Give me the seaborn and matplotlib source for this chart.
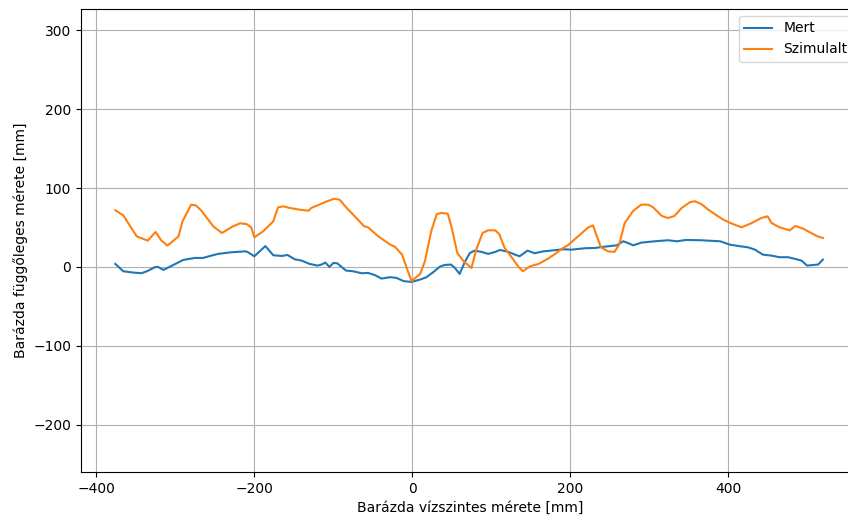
import matplotlib
matplotlib.use("Agg")
import matplotlib.pyplot as plt
import seaborn as sns
import pandas as pd

mert_x = [-376, -366, -353, -343, -336, -326, -322, -315, -300, -290, -275, -265, -256, -246,
          -229, -211, -208, -200, -186, -176, -165, -158, -149, -140, -130, -120, -115, -110,
          -105, -100, -95, -84, -75, -64, -56, -47, -39, -28, -20, -11, -1, 10, 18, 27, 35,
          41, 49, 54, 60, 67, 73, 79, 88, 96, 105, 111, 122, 130, 136, 146, 155, 166, 176,
          191, 202, 219, 231, 244, 259, 267, 273, 280, 290, 307, 324, 335, 347, 366, 375,
          390, 402, 415, 425, 434, 444, 455, 465, 476, 485, 493, 500, 514, 520]
mert_y = [3.8, -5.5, -7.2, -8, -5.5, -0.4, 0, -3.8, 3.8, 8.9, 11.4, 11.4, 13.9, 16.5,
          18.6, 19.8, 18.6, 13.5, 26.4, 14.8, 13.9, 15.2, 9.7, 8, 3.8, 1.7, 3, 5.5,
          0, 5, 4.6, -4.6, -5.5, -8, -7.6, -10.5, -14.8, -13, -13.9, -18, -19, -16, -13, -6.3, 0.4,
          2.5, 3, -1.3, -8.9, 7.2, 17.7, 20.7, 19, 16.5, 19, 21.5, 19, 15.6, 13.5, 20.7, 17.3, 19.8, 20.7,
          22.4, 21.9, 23.7, 24, 25.7, 27.4, 32.5, 30.4, 27.4, 30.8, 32.5, 33.8, 32.5, 34.2, 33.8, 33.3,
          32.5, 28.3, 26.2, 24.9, 21.9, 15.6, 14.3, 12.3, 12.3, 10.1, 8, 1.7, 3, 9.3]

szim_x = [-376, -366, -349, -335, -325, -318, -310, -296, -291, -280, -274, -267, -252, -241,
          -227, -218, -210, -204, -200, -189, -176, -170, -163, -155, -142, -131, -128, -110,
          -99, -92, -83, -70, -61, -56, -43, -28, -22, -13, -1, 10, 16, 24, 31, 37, 45, 50,
          57, 65, 75, 81, 89, 96, 105, 110, 117, 128, 134, 140, 149, 160, 172, 181, 191,
          197, 210, 223, 229, 233, 239, 248, 256, 262, 269, 280, 290, 299, 305, 316, 324,
          332, 341, 352, 358, 366, 375, 383, 394, 406, 417, 430, 442, 450, 455, 465, 478,
          485, 495, 505, 514, 520]
szim_y = [71.8, 65.4, 38.8, 33.3, 44.3, 33.8, 27, 38.8, 57.8, 78.9, 78, 71.3, 51.5, 43,
          51.5, 55.3, 54.4, 50.2, 37.6, 45, 57.8, 75.6, 76.8, 74.7, 72.5, 71.3, 74.7, 82.3,
          86.5, 85.2, 74.7, 61.2, 51.5, 50.2, 38.8, 28.3, 25.7, 15.6, -18, -8.9, 7.2, 45.2, 67, 68.4, 67.5, 49.4,
          17.7, 7.2, -1.3, 21.9, 43, 46.4, 46.4, 41.8, 24, 9.3, 0.8, -5.5, 0.8, 3.8, 10.5, 16.5, 24,
          27.4, 38.8, 50.2, 52.7, 40.9, 24.9, 19.8, 19, 28.3, 55.7, 71.3, 78.9, 78.9, 75.6, 64.6, 62,
          64.6, 74.7, 82.3, 83.2, 79.7, 72.5, 67, 59.9, 54.4, 50.2, 55.7, 62, 64.2, 55.7, 50.2, 46.4,
          51.9, 48.5, 43, 38.4, 36.7]

series_labels = ["Mert", "Szimulalt"]
x_label = "Barázda vízszintes mérete [mm]"
y_label = "Barázda függőleges mérete [mm]"

fig = plt.figure(figsize=(8.48, 5.17), dpi=100)
ax = fig.add_axes([81 / 848, 1 - 472 / 517, (860 - 81) / 848, (472 - 9) / 517])

df_m = pd.DataFrame({"x": mert_x, "y": mert_y})
df_s = pd.DataFrame({"x": szim_x, "y": szim_y})
sns.lineplot(data=df_m, x="x", y="y", ax=ax, color="#1f77b4", label=series_labels[0],
             sort=False, estimator=None, linewidth=1.5)
sns.lineplot(data=df_s, x="x", y="y", ax=ax, color="#ff7f0e", label=series_labels[1],
             sort=False, estimator=None, linewidth=1.5)

ax.set_xlim(-419.5, 567)
ax.set_ylim(-260, 327)
ax.set_xticks([-400, -200, 0, 200, 400])
ax.set_yticks([-200, -100, 0, 100, 200, 300])
ax.grid(True)
ax.set_xlabel(x_label)
ax.set_ylabel(y_label)
ax.legend(loc="upper right")

fig.savefig("out.png", dpi=100)
